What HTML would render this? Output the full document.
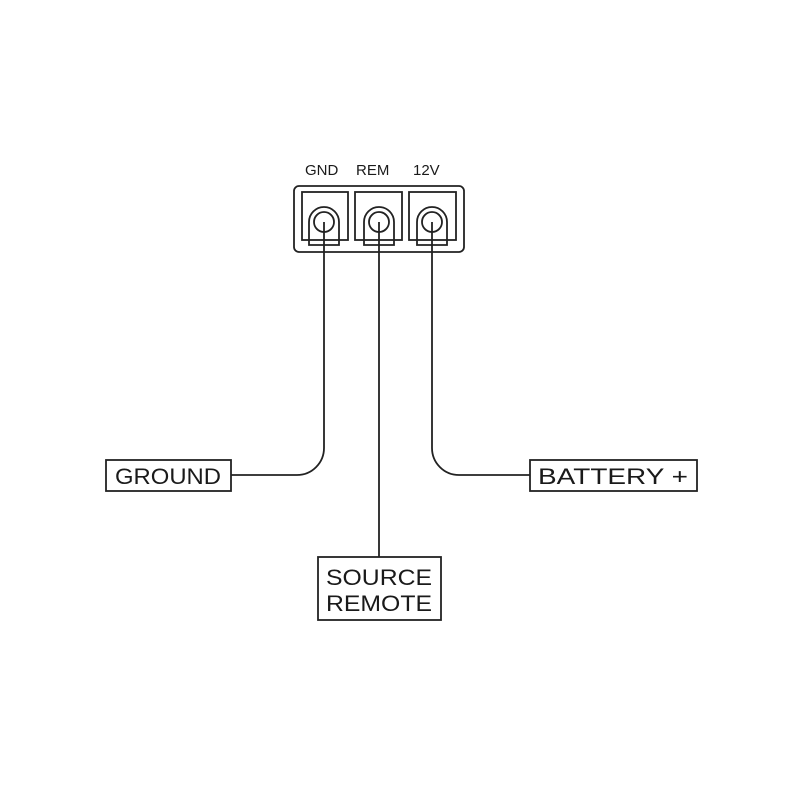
<!DOCTYPE html>
<html><head><meta charset="utf-8"><style>
html,body{margin:0;padding:0;background:#fff;}
svg text{font-family:"Liberation Sans",sans-serif;fill:#1a1a1a;}
</style></head><body>
<svg width="788" height="788" viewBox="0 0 788 788" xmlns="http://www.w3.org/2000/svg">
<rect width="788" height="788" fill="#fff"/>
<g fill="none" stroke="#222" stroke-width="1.8">
<rect x="294" y="186" width="170" height="66" rx="5"/>
<rect x="302" y="192" width="46" height="48"/>
<rect x="355" y="192" width="47" height="48"/>
<rect x="409" y="192" width="47" height="48"/>
<path d="M309 245 V222 A15 15 0 0 1 339 222 V245 Z"/>
<circle cx="324" cy="222" r="10"/>
<path d="M364 245 V222 A15 15 0 0 1 394 222 V245 Z"/>
<circle cx="379" cy="222" r="10"/>
<path d="M417 245 V222 A15 15 0 0 1 447 222 V245 Z"/>
<circle cx="432" cy="222" r="10"/>
<path d="M324 222 V448 A27 27 0 0 1 297 475 H231"/>
<path d="M379 222 V557"/>
<path d="M432 222 V448 A27 27 0 0 0 459 475 H530"/>
<rect x="106" y="460" width="125" height="31"/>
<rect x="530" y="460" width="167" height="31"/>
<rect x="318" y="557" width="123" height="63"/>
</g>
<text x="305" y="175" font-size="15">GND</text>
<text x="356" y="175" font-size="15">REM</text>
<text x="413" y="175" font-size="15">12V</text>
<text x="168" y="484" font-size="22" text-anchor="middle" textLength="106" lengthAdjust="spacingAndGlyphs">GROUND</text>
<text x="613" y="484" font-size="22" text-anchor="middle" textLength="150" lengthAdjust="spacingAndGlyphs">BATTERY +</text>
<text x="379" y="585" font-size="22" text-anchor="middle" textLength="106" lengthAdjust="spacingAndGlyphs">SOURCE</text>
<text x="379" y="611" font-size="22" text-anchor="middle" textLength="106" lengthAdjust="spacingAndGlyphs">REMOTE</text>
</svg>
</body></html>
